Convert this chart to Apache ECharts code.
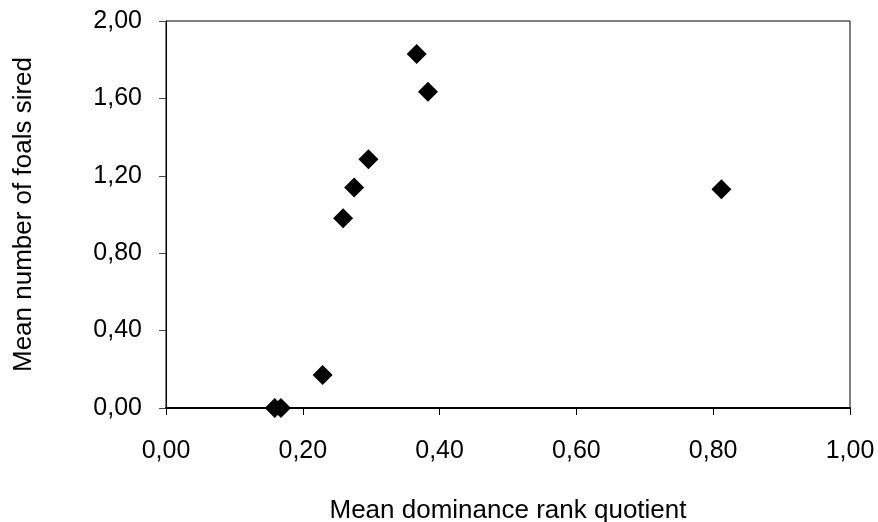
<!DOCTYPE html>
<html>
<head>
<meta charset="utf-8">
<script src="https://cdn.jsdelivr.net/npm/echarts@6/dist/echarts.min.js"></script>
<style>
html,body{margin:0;padding:0;background:#fff;}
#chart{width:878px;height:522px;}
</style>
</head>
<body>
<div id="chart"></div>
<script>
const rankQuotient = [0.159, 0.168, 0.229, 0.259, 0.275, 0.296, 0.3665, 0.383, 0.812];
const foalsSired   = [0.00, 0.00, 0.17, 0.98, 1.14, 1.285, 1.83, 1.635, 1.13];
const xTitle = 'Mean dominance rank quotient';
const yTitle = 'Mean number of foals sired';

const points = rankQuotient.map((x, i) => [x, foalsSired[i]]);
const fmt = v => v.toFixed(2).replace('.', ',');
const FONT = '"Liberation Sans", Arial, sans-serif';

const chart = echarts.init(document.getElementById('chart'));
chart.setOption({
  backgroundColor: '#fff',
  animation: false,
  grid: {left: 166, right: 28, top: 21, bottom: 114, containLabel: false, outerBoundsMode: 'none',
         show: true, borderColor: '#000', borderWidth: 1, backgroundColor: '#fff'},
  xAxis: {
    type: 'value', min: 0, max: 1, interval: 0.2,
    name: xTitle, nameLocation: 'middle', nameGap: 90,
    nameTextStyle: {fontFamily: FONT, fontSize: 26, color: '#000'},
    axisLine: {show: true, onZero: false, lineStyle: {color: '#000', width: 2}},
    axisTick: {show: true, length: 7, lineStyle: {color: '#000', width: 1}},
    axisLabel: {formatter: fmt, fontFamily: FONT, fontSize: 25, color: '#000', margin: 31},
    splitLine: {show: false}
  },
  yAxis: {
    type: 'value', min: 0, max: 2, interval: 0.4,
    name: yTitle, nameLocation: 'middle', nameGap: 129, nameRotate: 90,
    nameTextStyle: {fontFamily: FONT, fontSize: 26, color: '#000'},
    axisLine: {show: true, onZero: false, lineStyle: {color: '#000', width: 1}},
    axisTick: {show: true, length: 7, lineStyle: {color: '#444', width: 1}},
    axisLabel: {formatter: fmt, fontFamily: FONT, fontSize: 25, color: '#000', margin: 24},
    splitLine: {show: false}
  },
  series: [{
    type: 'scatter',
    data: points,
    symbol: 'diamond',
    symbolSize: 20,
    clip: false,
    itemStyle: {color: '#000', opacity: 1},
    z: 5
  }]
});
</script>
</body>
</html>
